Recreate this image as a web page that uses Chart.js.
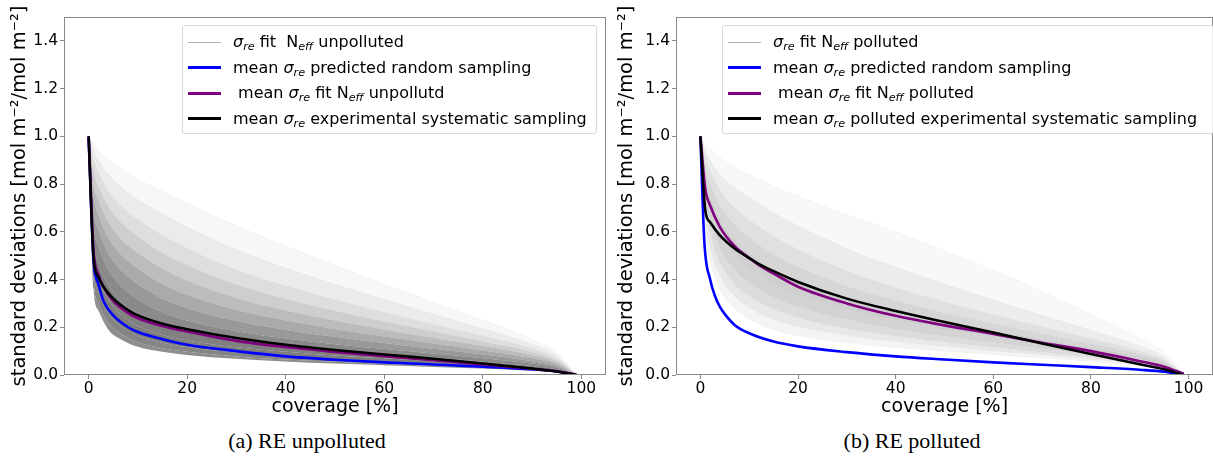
<!DOCTYPE html>
<html>
<head>
<meta charset="utf-8">
<script src="https://cdn.jsdelivr.net/npm/chart.js@4"></script>
<style>
  body { margin: 0; background: #fff; }
  #wrap { position: relative; width: 1213px; height: 458px; overflow: hidden; background: #fff; }
  canvas { position: absolute; top: 0; }
  .legend { position: absolute; top: 25px; height: 107px; border: 1px solid #d8d8d8; border-radius: 3px;
            background: rgba(255,255,255,0.85); font: 16px "DejaVu Sans"; color: #000; }
  .row { position: absolute; left: 0; right: 0; height: 25px; }
  .swatch { position: absolute; left: 5px; width: 33px; }
  .txt { position: absolute; left: 50px; top: 0; line-height: 25px; white-space: pre; }
  .txt i { font-style: oblique; }
  sub { font-size: 70%; vertical-align: -0.3em; line-height: 0; font-style: oblique; }
  .caption { position: absolute; top: 428px; font: 22px "Liberation Serif", serif; color: #000;
             transform: translateX(-50%); white-space: nowrap; }
</style>
</head>
<body>
<div id="wrap">
  <canvas id="chartU" width="606" height="420" style="left:0px"></canvas>
  <canvas id="chartP" width="607" height="420" style="left:606px"></canvas>
  <div id="legendU" class="legend" style="left:182px; width:413px;"></div>
  <div id="legendP" class="legend" style="left:722px; width:490px;"></div>
  <div class="caption" style="left:307px">(a) RE unpolluted</div>
  <div class="caption" style="left:912px">(b) RE polluted</div>
</div>
<script>
// axis ticks
const xTicks = [0, 20, 40, 60, 80, 100];
const yTicks = [0, 0.2, 0.4, 0.6, 0.8, 1.0, 1.2, 1.4];

// coverage [%] at which the fitted curves are read
const xFan = [0, 1, 2, 4, 7, 10, 15, 20, 30, 40, 50, 60, 70, 80, 90, 95, 99];

// unpolluted: fan of sigma_re fit N_eff curves (bottom to top)
const fanU0 = [1.0, 0.36, 0.27, 0.19, 0.145, 0.118, 0.097, 0.084, 0.068, 0.057, 0.048, 0.041, 0.034, 0.027, 0.018, 0.011, 0];
const fanU1 = [1.0, 0.40, 0.30, 0.22, 0.168, 0.137, 0.112, 0.097, 0.078, 0.065, 0.055, 0.047, 0.039, 0.031, 0.021, 0.013, 0];
const fanU2 = [1.0, 0.45, 0.35, 0.26, 0.2, 0.165, 0.135, 0.117, 0.094, 0.079, 0.067, 0.057, 0.047, 0.037, 0.025, 0.016, 0];
const fanU3 = [1.0, 0.51, 0.41, 0.315, 0.245, 0.205, 0.168, 0.145, 0.116, 0.097, 0.082, 0.07, 0.058, 0.045, 0.031, 0.019, 0];
const fanU4 = [1.0, 0.57, 0.47, 0.375, 0.3, 0.255, 0.21, 0.182, 0.146, 0.122, 0.103, 0.087, 0.072, 0.056, 0.038, 0.024, 0];
const fanU5 = [1.0, 0.63, 0.54, 0.44, 0.365, 0.315, 0.262, 0.228, 0.183, 0.153, 0.129, 0.109, 0.09, 0.07, 0.048, 0.03, 0];
const fanU6 = [1.0, 0.69, 0.61, 0.51, 0.43, 0.38, 0.32, 0.28, 0.226, 0.189, 0.16, 0.134, 0.11, 0.086, 0.058, 0.037, 0];
const fanU7 = [1.0, 0.75, 0.67, 0.575, 0.495, 0.445, 0.38, 0.335, 0.272, 0.228, 0.192, 0.161, 0.132, 0.103, 0.07, 0.044, 0];
const fanU8 = [1.0, 0.8, 0.73, 0.64, 0.56, 0.51, 0.445, 0.395, 0.322, 0.27, 0.228, 0.19, 0.155, 0.121, 0.082, 0.052, 0];
const fanU9 = [1.0, 0.85, 0.79, 0.705, 0.63, 0.58, 0.51, 0.46, 0.378, 0.318, 0.268, 0.223, 0.181, 0.14, 0.095, 0.06, 0];
const fanU10 = [1.0, 0.9, 0.85, 0.77, 0.7, 0.65, 0.585, 0.53, 0.44, 0.373, 0.315, 0.262, 0.212, 0.163, 0.11, 0.07, 0];
const fanU11 = [1.0, 0.94, 0.9, 0.84, 0.78, 0.735, 0.675, 0.62, 0.525, 0.448, 0.38, 0.316, 0.255, 0.195, 0.13, 0.082, 0];
const fanU12 = [1.0, 0.97, 0.94, 0.9, 0.86, 0.82, 0.77, 0.72, 0.625, 0.54, 0.46, 0.38, 0.305, 0.23, 0.15, 0.094, 0];
const fanUShades = ['#8e8e8e', '#858585', '#7e7e7e', '#808080', '#8a8a8a', '#999999', '#aaaaaa',
                    '#bcbcbc', '#cecece', '#dedede', '#ebebeb', '#f7f7f7'];

// unpolluted: mean curves
const blueUx = [0, 1, 2, 3, 5, 8, 10, 15, 20, 30, 40, 50, 60, 70, 80, 90, 95, 99];
const blueU = [1.0, 0.48, 0.38, 0.31, 0.25, 0.2, 0.18, 0.15, 0.127, 0.1, 0.078, 0.064, 0.053, 0.044, 0.035, 0.024, 0.015, 0];
const meanUx = [0, 1, 2, 3, 5, 8, 10, 15, 20, 30, 40, 50, 60, 70, 80, 90, 95, 99];
const purpleU = [1.0, 0.52, 0.42, 0.37, 0.31, 0.26, 0.238, 0.205, 0.182, 0.143, 0.117, 0.097, 0.079, 0.062, 0.044, 0.026, 0.016, 0.002];
const blackU = [1.0, 0.49, 0.41, 0.37, 0.32, 0.272, 0.25, 0.215, 0.192, 0.155, 0.127, 0.105, 0.086, 0.068, 0.048, 0.027, 0.015, 0];

// polluted: fan of sigma_re fit N_eff curves (bottom to top)
const fanP0 = [1.0, 0.6, 0.48, 0.36, 0.28, 0.235, 0.19, 0.165, 0.135, 0.115, 0.1, 0.086, 0.072, 0.057, 0.039, 0.025, 0];
const fanP1 = [1.0, 0.65, 0.535, 0.415, 0.33, 0.282, 0.232, 0.203, 0.165, 0.139, 0.119, 0.101, 0.084, 0.066, 0.045, 0.029, 0];
const fanP2 = [1.0, 0.7, 0.59, 0.47, 0.38, 0.33, 0.275, 0.24, 0.195, 0.163, 0.138, 0.116, 0.095, 0.074, 0.05, 0.032, 0];
const fanP3 = [1.0, 0.75, 0.645, 0.53, 0.44, 0.385, 0.325, 0.285, 0.232, 0.193, 0.162, 0.136, 0.111, 0.086, 0.058, 0.037, 0];
const fanP4 = [1.0, 0.79, 0.7, 0.59, 0.5, 0.445, 0.38, 0.335, 0.273, 0.228, 0.191, 0.159, 0.129, 0.099, 0.066, 0.042, 0];
const fanP5 = [1.0, 0.83, 0.75, 0.65, 0.565, 0.51, 0.44, 0.39, 0.32, 0.267, 0.223, 0.185, 0.149, 0.114, 0.076, 0.048, 0];
const fanP6 = [1.0, 0.87, 0.8, 0.71, 0.63, 0.575, 0.505, 0.452, 0.372, 0.311, 0.26, 0.215, 0.172, 0.131, 0.087, 0.055, 0];
const fanP7 = [1.0, 0.91, 0.855, 0.775, 0.7, 0.65, 0.58, 0.525, 0.436, 0.366, 0.306, 0.252, 0.201, 0.152, 0.1, 0.063, 0];
const fanP8 = [1.0, 0.94, 0.9, 0.84, 0.785, 0.745, 0.68, 0.625, 0.53, 0.452, 0.381, 0.314, 0.25, 0.188, 0.122, 0.076, 0];
const fanP9 = [1.0, 0.97, 0.95, 0.91, 0.87, 0.84, 0.79, 0.75, 0.67, 0.6, 0.52, 0.44, 0.35, 0.255, 0.155, 0.095, 0];
const fanPShades = ['#f4f4f4', '#e8e8e8', '#dcdcdc', '#d3d3d3', '#cfcfcf', '#d6d6d6', '#e0e0e0', '#ececec', '#f8f8f8'];

// polluted: mean curves
const bluePx = [0, 0.8, 2, 3, 4, 5, 7, 10, 15, 20, 30, 40, 50, 60, 70, 80, 90, 95, 99];
const blueP = [1.0, 0.56, 0.4, 0.33, 0.285, 0.255, 0.21, 0.175, 0.14, 0.12, 0.096, 0.078, 0.065, 0.053, 0.043, 0.033, 0.022, 0.014, 0];
const meanPx = [0, 1, 2, 4, 7, 10, 12, 15, 20, 30, 40, 50, 60, 70, 80, 90, 95, 99];
const purpleP = [1.0, 0.78, 0.71, 0.62, 0.54, 0.49, 0.46, 0.425, 0.37, 0.3, 0.248, 0.208, 0.172, 0.135, 0.1, 0.058, 0.035, 0.005];
const blackP = [1.0, 0.69, 0.64, 0.585, 0.53, 0.49, 0.465, 0.435, 0.39, 0.32, 0.268, 0.222, 0.178, 0.132, 0.088, 0.045, 0.024, 0];

const legendU = [
  '<i>σ</i><sub>re</sub> fit  N<sub>eff</sub> unpolluted',
  'mean <i>σ</i><sub>re</sub> predicted random sampling',
  ' mean <i>σ</i><sub>re</sub> fit N<sub>eff</sub> unpollutd',
  'mean <i>σ</i><sub>re</sub> experimental systematic sampling'
];
const legendP = [
  '<i>σ</i><sub>re</sub> fit N<sub>eff</sub> polluted',
  'mean <i>σ</i><sub>re</sub> predicted random sampling',
  ' mean <i>σ</i><sub>re</sub> fit N<sub>eff</sub> polluted',
  'mean <i>σ</i><sub>re</sub> polluted experimental systematic sampling'
];

const pts = (xs, ys) => xs.map((x, i) => ({ x: x, y: ys[i] }));

// each fan curve is filled down to the one below it
const fanDatasets = (curves, fills) => curves.map((c, i) => ({
  data: pts(xFan, c),
  borderColor: 'rgba(0,0,0,0.05)',
  borderWidth: 0.6,
  backgroundColor: i === 0 ? 'transparent' : fills[i - 1],
  fill: i === 0 ? false : '-1',
  pointRadius: 0,
  cubicInterpolationMode: 'monotone',
  order: 10
}));

const meanLine = (xs, ys, color, order) => ({
  data: pts(xs, ys),
  borderColor: color,
  borderWidth: 2.6,
  fill: false,
  pointRadius: 0,
  cubicInterpolationMode: 'monotone',
  order: order
});

const frame = {
  id: 'frame',
  afterDatasetsDraw(chart) {
    const a = chart.chartArea, ctx = chart.ctx;
    ctx.save();
    ctx.strokeStyle = '#8a8a8a';
    ctx.lineWidth = 1;
    ctx.strokeRect(Math.round(a.left) + 0.5, Math.round(a.top) + 0.5,
                   Math.round(a.right - a.left) - 1, Math.round(a.bottom - a.top) - 1);
    ctx.restore();
  }
};

function makeChart(id, datasets, yWidth, yTitlePad) {
  return new Chart(document.getElementById(id), {
    type: 'line',
    data: { datasets: datasets },
    plugins: [frame],
    options: {
      responsive: false,
      animation: false,
      devicePixelRatio: 1,
      layout: { padding: { top: 17, right: 0, bottom: 0, left: 0 } },
      plugins: { legend: { display: false }, tooltip: { enabled: false } },
      scales: {
        x: {
          type: 'linear', min: -5, max: 105,
          afterBuildTicks: s => { s.ticks = xTicks.map(v => ({ value: v })); },
          afterFit: s => { s.height = 45; },
          grid: { drawOnChartArea: false, tickLength: 4, color: '#8a8a8a' },
          border: { display: false },
          ticks: { color: '#000', font: { family: 'DejaVu Sans', size: 15.5 }, padding: 1, maxRotation: 0 },
          title: { display: true, text: 'coverage [%]', color: '#000',
                   font: { family: 'DejaVu Sans', size: 19 }, padding: { top: 0, bottom: 2 } }
        },
        y: {
          min: 0, max: 1.5,
          afterBuildTicks: s => { s.ticks = yTicks.map(v => ({ value: v })); },
          afterFit: s => { s.width = yWidth; },
          grid: { drawOnChartArea: false, tickLength: 4, color: '#8a8a8a' },
          border: { display: false },
          ticks: { color: '#000', font: { family: 'DejaVu Sans', size: 15.5 }, padding: 2,
                   callback: v => v.toFixed(1) },
          title: { display: true, text: 'standard deviations [mol m⁻²/mol m⁻²]', color: '#000',
                   font: { family: 'DejaVu Sans', size: 19.5 }, padding: { top: yTitlePad, bottom: 0 } }
        }
      }
    }
  });
}

makeChart('chartU', [
  meanLine(meanUx, blackU, '#000000', 0),
  meanLine(meanUx, purpleU, '#800080', 1),
  meanLine(blueUx, blueU, '#0000ff', 2),
  ...fanDatasets([fanU0, fanU1, fanU2, fanU3, fanU4, fanU5, fanU6, fanU7, fanU8, fanU9, fanU10, fanU11, fanU12],
                 fanUShades)
], 64, 8);

makeChart('chartP', [
  meanLine(meanPx, blackP, '#000000', 0),
  meanLine(meanPx, purpleP, '#800080', 1),
  meanLine(bluePx, blueP, '#0000ff', 2),
  ...fanDatasets([fanP0, fanP1, fanP2, fanP3, fanP4, fanP5, fanP6, fanP7, fanP8, fanP9], fanPShades)
], 70, 9);

// legends with subscripts as html text
const swatches = [
  { color: '#b0b0b0', h: 1 },
  { color: '#0000ff', h: 3 },
  { color: '#800080', h: 3 },
  { color: '#000000', h: 3 }
];
function buildLegend(id, labels) {
  const box = document.getElementById(id);
  labels.forEach((lab, i) => {
    const row = document.createElement('div');
    row.className = 'row';
    row.style.top = (3 + i * 25.5) + 'px';
    const sw = document.createElement('div');
    sw.className = 'swatch';
    sw.style.background = swatches[i].color;
    sw.style.height = swatches[i].h + 'px';
    sw.style.top = (13 - swatches[i].h / 2) + 'px';
    const t = document.createElement('div');
    t.className = 'txt';
    t.innerHTML = lab;
    row.appendChild(sw);
    row.appendChild(t);
    box.appendChild(row);
  });
}
buildLegend('legendU', legendU);
buildLegend('legendP', legendP);
</script>
</body>
</html>
